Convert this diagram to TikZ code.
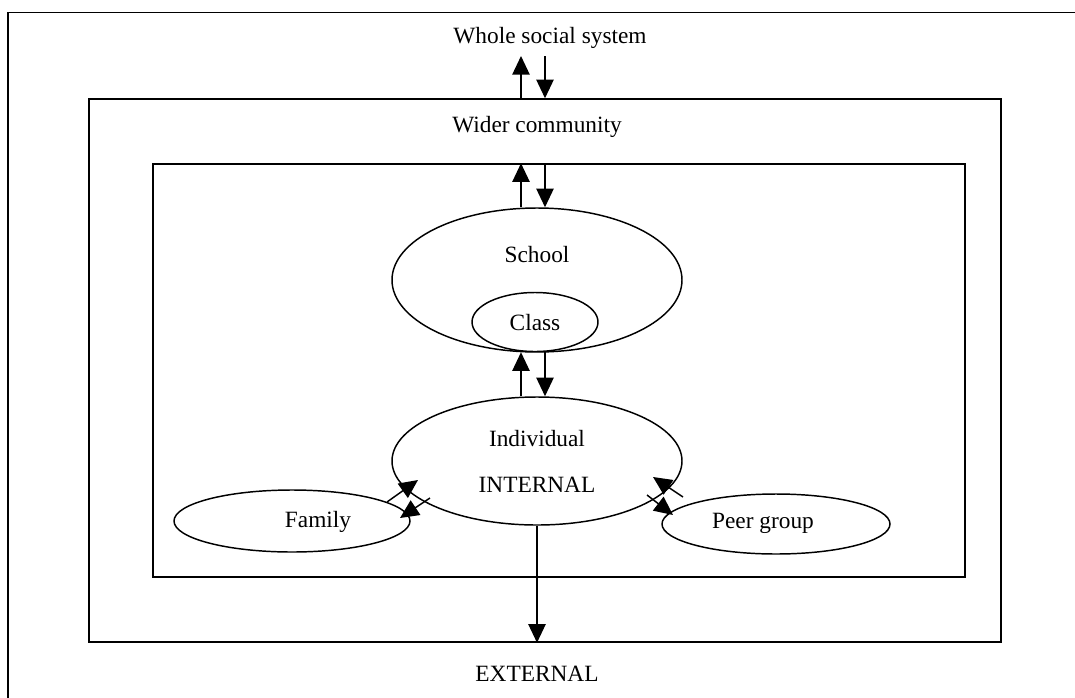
\documentclass[tikz,border=0pt]{standalone}
\usepackage{fontspec}
\setmainfont{Liberation Serif}
\usetikzlibrary{shapes.geometric,arrows.meta}

\begin{document}
\begin{tikzpicture}[x=0.75pt,y=0.75pt,yscale=-1,line width=1.1pt,
  every node/.style={font=\fontsize{17.5}{20}\selectfont},
  box/.style={draw,inner sep=0pt},
  oval/.style={draw,ellipse,inner sep=0pt},
  arr/.style={-{Triangle[length=14pt,width=13pt]}}]
\useasboundingbox (0,0) rectangle (1075,697);

%Shape: Frame (outer, open at right and bottom)
\draw (8,705) -- (8,12.3) -- (1085,12.3) ;
%Shape: Rectangle [wider community]
\node [box,minimum width=684pt,minimum height=407.25pt] (wider) at (545,370.5) {};
%Shape: Rectangle [inner]
\node [box,minimum width=609pt,minimum height=309.75pt] (inner) at (559,370.5) {};

%Shape: Ellipse [school]
\node [oval,minimum width=217.5pt,minimum height=108pt] (school) at (537,280) {};
%Shape: Ellipse [class]
\node [oval,minimum width=94.5pt,minimum height=44.25pt] (class) at (535,322) {};
%Shape: Ellipse [individual]
\node [oval,minimum width=217.5pt,minimum height=96pt] (indiv) at (537,461) {};
%Shape: Ellipse [family]
\node [oval,minimum width=177pt,minimum height=46.5pt] (family) at (292,521) {};
%Shape: Ellipse [peer group]
\node [oval,minimum width=171pt,minimum height=45pt] (peer) at (776,524) {};

% Text Node
\node (wss) at (550,38) {Whole social system};
% Text Node
\node (wct) at (537,127) {Wider community};
% Text Node
\node (schtxt) at (537,255) {School};
% Text Node
\node (clstxt) at (535,323) {Class};
% Text Node
\node (indtxt) at (537,439) {Individual};
% Text Node
\node (inttxt) at (537,485) {INTERNAL};
% Text Node
\node (famtxt) at (318,522) {Family};
% Text Node
\node (peertxt) at (763,523) {Peer group};
% Text Node
\node (exttxt) at (537,674) {EXTERNAL};

%Arrows: whole social system <-> wider community
\coordinate (wtop) at (533,56);
\draw [arr] ([xshift=-18pt]wider.north) -- ([xshift=-9pt]wtop) ;
\draw [arr] ([xshift=9pt]wtop) -- (wider.north) ;
%Arrows: wider community <-> school
\draw [arr] ([xshift=-12pt]school.north) -- ([xshift=-28.5pt]inner.north) ;
\draw [arr] ([xshift=-10.5pt]inner.north) -- ([xshift=6pt]school.north) ;
%Arrows: class <-> individual
\draw [arr] ([xshift=-12pt]indiv.north) -- ([xshift=-10.5pt]class.south) ;
\draw [arr] ([xshift=7.5pt]class.south) -- ([xshift=6pt]indiv.north) ;
%Arrow: individual -> external
\draw [arr] (indiv.south) -- (indiv.south |- wider.south) ;

%Arrows: family <-> individual
\coordinate (famout) at (387,502);
\coordinate (famin) at (400,518);
\coordinate (indfl) at (418,480);
\coordinate (indfr) at (430,498);
\draw [arr] (famout) -- (indfl) ;
\draw [arr] (indfr) -- (famin) ;
%Arrows: peer group <-> individual
\coordinate (peerout) at (683,497);
\coordinate (peerin) at (673,515);
\coordinate (indpr) at (653,477);
\coordinate (indpl) at (647,495);
\draw [arr] (peerout) -- (indpr) ;
\draw [arr] (indpl) -- (peerin) ;

\end{tikzpicture}
\end{document}
